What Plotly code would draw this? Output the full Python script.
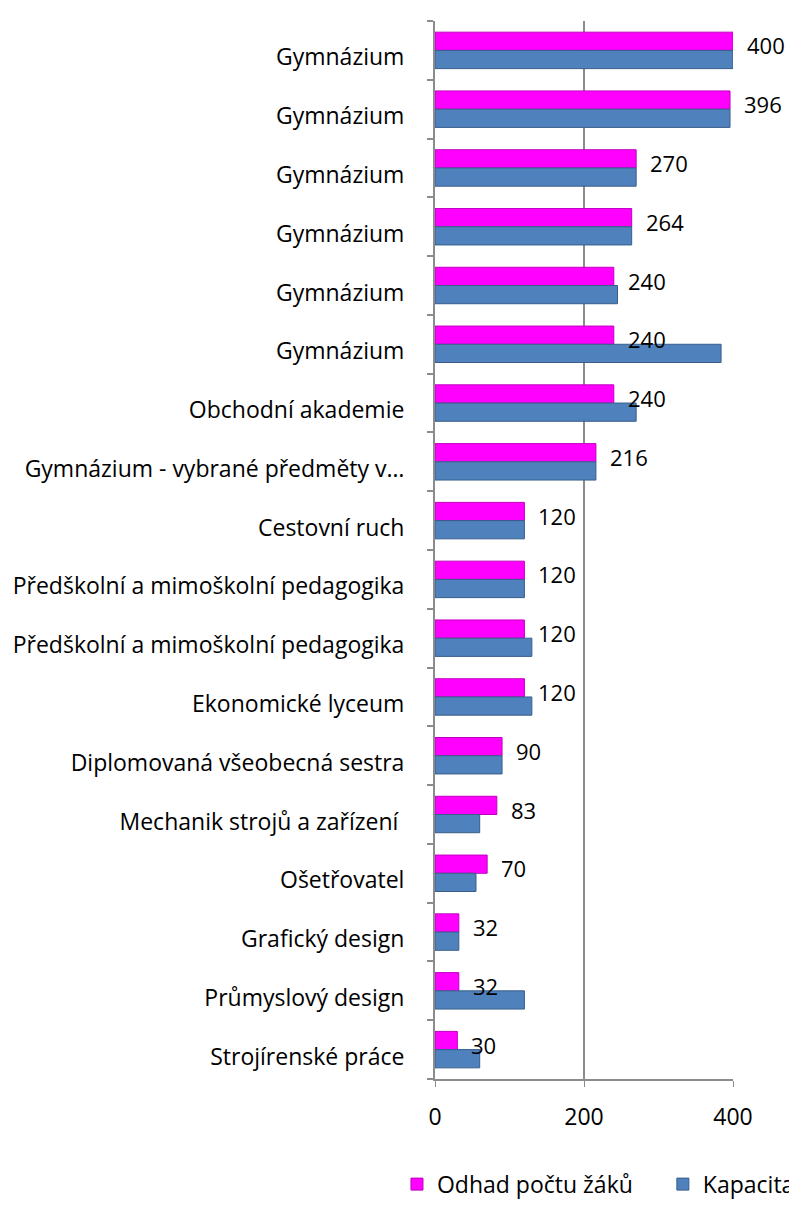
import plotly.graph_objects as go

categories = [
    "Gymnázium", "Gymnázium", "Gymnázium", "Gymnázium", "Gymnázium", "Gymnázium",
    "Obchodní akademie", "Gymnázium - vybrané předměty v…", "Cestovní ruch",
    "Předškolní a mimoškolní pedagogika", "Předškolní a mimoškolní pedagogika",
    "Ekonomické lyceum", "Diplomovaná všeobecná sestra", "Mechanik strojů a zařízení ",
    "Ošetřovatel", "Grafický design", "Průmyslový design", "Strojírenské práce",
]
odhad = [400, 396, 270, 264, 240, 240, 240, 216, 120, 120, 120, 120, 90, 83, 70, 32, 32, 30]
kapacita = [400, 396, 270, 264, 245, 384, 270, 216, 120, 120, 130, 130, 90, 60, 55, 32, 120, 60]
x_ticks = [0, 200, 400]

rows = list(range(len(categories)))
FONT = "Open Sans"

fig = go.Figure()
fig.add_trace(go.Bar(
    y=rows, x=odhad, orientation="h", name="Odhad počtu žáků", legend="legend",
    marker=dict(color="#FF00FF", line=dict(color="#C000C0", width=1)),
))
fig.add_trace(go.Bar(
    y=rows, x=kapacita, orientation="h", name="Kapacita", legend="legend2",
    marker=dict(color="#4F81BD", line=dict(color="#385D8A", width=1)),
))

for r, v in zip(rows, odhad):
    fig.add_annotation(x=v, y=r, text=str(v), showarrow=False, xanchor="left",
                       xshift=12, yshift=5, font=dict(size=22, color="black", family=FONT))

leg_common = dict(orientation="h", xref="container", yref="container",
                  xanchor="left", y=0.052, yanchor="top",
                  font=dict(size=23), itemwidth=30, bgcolor="rgba(0,0,0,0)")

fig.update_layout(
    width=789, height=1218,
    margin=dict(l=427, r=64, t=13, b=147, autoexpand=False),
    paper_bgcolor="white", plot_bgcolor="white",
    barmode="group", bargap=0.38, bargroupgap=0,
    font=dict(family=FONT, size=23, color="black"),
    showlegend=True,
    legend=dict(x=0.493, **leg_common),
    legend2=dict(x=0.830, **leg_common),
)
fig.update_xaxes(range=[0, 400], tickvals=x_ticks, showgrid=True, gridcolor="#8C8C8C",
                 gridwidth=2, showline=True, linecolor="#8C8C8C", linewidth=2,
                 ticks="outside", ticklen=6, tickcolor="#8C8C8C", zeroline=False,
                 ticklabelstandoff=10,
                 tickfont=dict(size=23), automargin=False)
fig.update_yaxes(range=[len(categories) - 0.5, -0.5], tickvals=rows, ticktext=categories,
                 showgrid=False, showline=True, linecolor="#8C8C8C", linewidth=2,
                 ticks="", ticklabelstandoff=24, ticklabelshift=-7, zeroline=False,
                 automargin=False,
                 minor=dict(tickvals=[r + 0.5 for r in rows] + [-0.5], ticks="outside",
                            ticklen=6, tickcolor="#8C8C8C", tickwidth=2),
                 tickfont=dict(size=23))

fig.write_html("out.html")
